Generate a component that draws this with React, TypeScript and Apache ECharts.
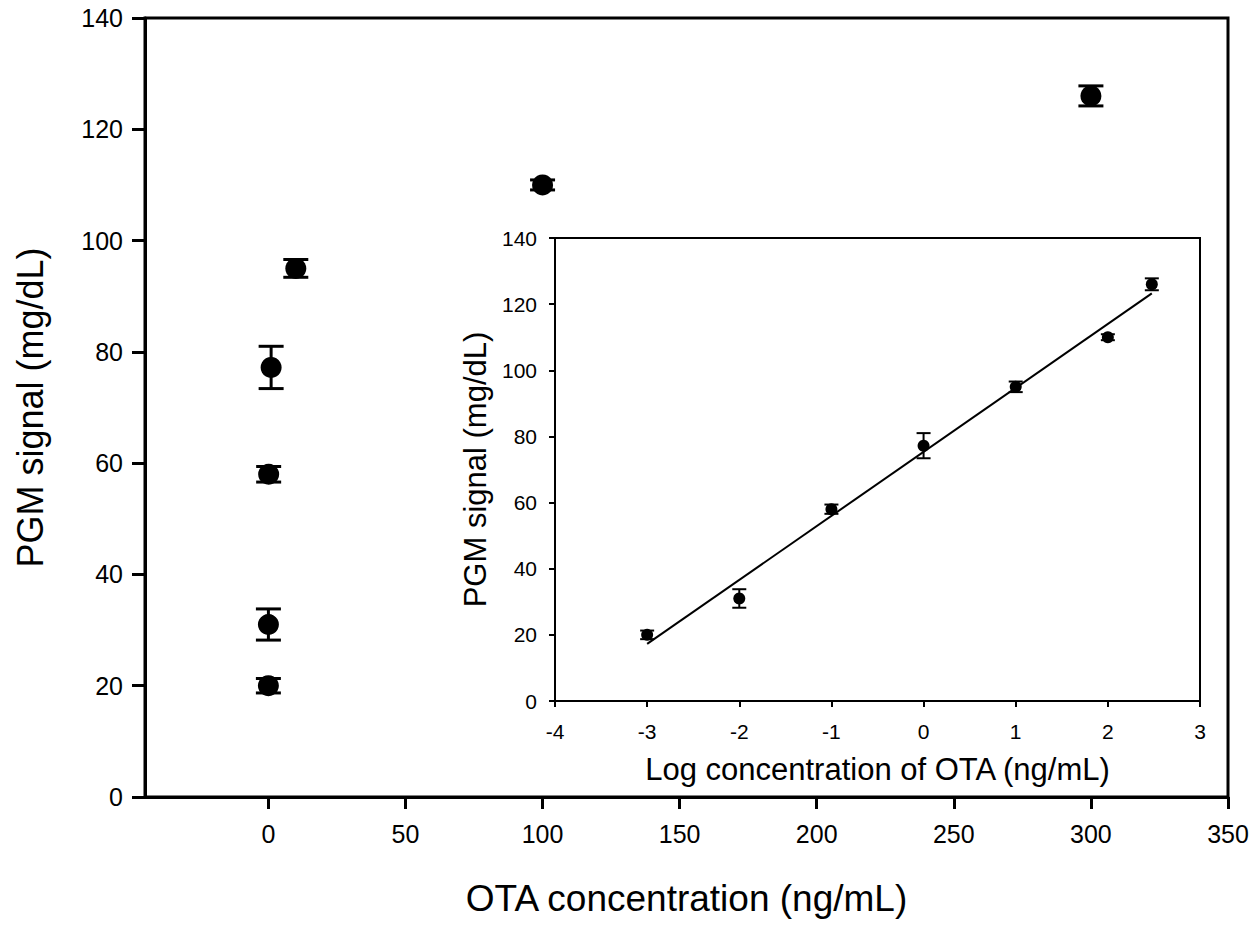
import React, { useEffect, useRef } from "react";
import * as echarts from "echarts";

// OTA concentrations (ng/mL) and PGM signal (mg/dL) with error (SD)
const concentrations = [0.001, 0.01, 0.1, 1, 10, 100, 300];
const pgmSignal = [20, 31, 58, 77.2, 95, 110, 126];
const pgmError = [1.3, 2.8, 1.4, 3.8, 1.6, 0.9, 1.8];

const mainXTicks = [0, 50, 100, 150, 200, 250, 300, 350];

const FONT = "'Liberation Sans', Arial, sans-serif";

export default function App() {
  const ref = useRef<HTMLDivElement>(null);

  useEffect(() => {
    if (!ref.current) return;
    const chart = echarts.init(ref.current, null, { renderer: "svg" });

    const logX = concentrations.map((c) => Math.log10(c));
    const mainData = concentrations.map((c, i) => [c, pgmSignal[i], pgmError[i]]);
    const insetData = logX.map((lx, i) => [lx, pgmSignal[i], pgmError[i]]);

    // least squares fit on log scale
    const n = logX.length;
    const mx = logX.reduce((a, b) => a + b, 0) / n;
    const my = pgmSignal.reduce((a, b) => a + b, 0) / n;
    let sxy = 0,
      sxx = 0;
    for (let i = 0; i < n; i++) {
      sxy += (logX[i] - mx) * (pgmSignal[i] - my);
      sxx += (logX[i] - mx) * (logX[i] - mx);
    }
    const slope = sxy / sxx;
    const intercept = my - slope * mx;
    const xLo = Math.min(...logX);
    const xHi = Math.max(...logX);
    const fitData = [
      [xLo, intercept + slope * xLo],
      [xHi, intercept + slope * xHi],
    ];

    const errRender = (capHalf: number, lw: number) => (params: any, api: any) => {
      const x = api.value(0);
      const y = api.value(1);
      const e = api.value(2);
      const top = api.coord([x, y + e]);
      const bot = api.coord([x, y - e]);
      const style = { stroke: "#000", lineWidth: lw };
      return {
        type: "group",
        children: [
          { type: "line", shape: { x1: top[0], y1: top[1], x2: bot[0], y2: bot[1] }, style },
          { type: "line", shape: { x1: top[0] - capHalf, y1: top[1], x2: top[0] + capHalf, y2: top[1] }, style },
          { type: "line", shape: { x1: bot[0] - capHalf, y1: bot[1], x2: bot[0] + capHalf, y2: bot[1] }, style },
        ],
      };
    };

    const mainAxisLine = { show: true, onZero: false, lineStyle: { color: "#000", width: 3 } };
    const insetAxisLine = { show: true, onZero: false, lineStyle: { color: "#000", width: 2 } };

    chart.setOption({
      animation: false,
      backgroundColor: "#fff",
      grid: [
        {
          left: 145,
          top: 18,
          width: 1083,
          height: 779,
          show: true,
          borderColor: "#000",
          borderWidth: 3,
          backgroundColor: "transparent",
        },
        {
          left: 555,
          top: 238,
          width: 645,
          height: 463,
          show: true,
          borderColor: "#000",
          borderWidth: 2,
          backgroundColor: "#fff",
          z: 5,
        },
      ],
      xAxis: [
        {
          gridIndex: 0,
          type: "value",
          min: -45,
          max: 350,
          axisLine: mainAxisLine,
          axisTick: {
            show: true,
            customValues: mainXTicks,
            length: 12,
            lineStyle: { color: "#000", width: 3 },
          },
          axisLabel: {
            customValues: mainXTicks,
            color: "#000",
            fontSize: 25,
            fontFamily: FONT,
            margin: 24,
          },
          splitLine: { show: false },
          name: "OTA concentration (ng/mL)",
          nameLocation: "middle",
          nameGap: 83,
          nameTextStyle: { color: "#000", fontSize: 37, fontFamily: FONT },
        },
        {
          gridIndex: 1,
          type: "value",
          min: -4,
          max: 3,
          interval: 1,
          axisLine: insetAxisLine,
          axisTick: { show: true, length: 6, lineStyle: { color: "#000", width: 2 } },
          axisLabel: { color: "#000", fontSize: 21, fontFamily: FONT, margin: 20 },
          splitLine: { show: false },
          name: "Log concentration of OTA (ng/mL)",
          nameLocation: "middle",
          nameGap: 53,
          nameTextStyle: { color: "#000", fontSize: 31, fontFamily: FONT },
          z: 6,
        },
      ],
      yAxis: [
        {
          gridIndex: 0,
          type: "value",
          min: 0,
          max: 140,
          interval: 20,
          axisLine: mainAxisLine,
          axisTick: { show: true, length: 13, lineStyle: { color: "#000", width: 3 } },
          axisLabel: { color: "#000", fontSize: 25, fontFamily: FONT, margin: 22 },
          splitLine: { show: false },
          name: "PGM signal (mg/dL)",
          nameLocation: "middle",
          nameGap: 97,
          nameTextStyle: { color: "#000", fontSize: 36, fontFamily: FONT },
        },
        {
          gridIndex: 1,
          type: "value",
          min: 0,
          max: 140,
          interval: 20,
          axisLine: insetAxisLine,
          axisTick: { show: true, length: 6, lineStyle: { color: "#000", width: 2 } },
          axisLabel: { color: "#000", fontSize: 21, fontFamily: FONT, margin: 18 },
          splitLine: { show: false },
          name: "PGM signal (mg/dL)",
          nameLocation: "middle",
          nameGap: 64,
          nameTextStyle: { color: "#000", fontSize: 31, fontFamily: FONT },
          z: 6,
        },
      ],
      series: [
        {
          type: "custom",
          xAxisIndex: 0,
          yAxisIndex: 0,
          renderItem: errRender(12.5, 3),
          data: mainData,
          z: 3,
        },
        {
          type: "scatter",
          xAxisIndex: 0,
          yAxisIndex: 0,
          symbol: "circle",
          symbolSize: 21,
          itemStyle: { color: "#000", opacity: 1 },
          data: mainData.map((d) => [d[0], d[1]]),
          z: 4,
        },
        {
          type: "line",
          xAxisIndex: 1,
          yAxisIndex: 1,
          data: fitData,
          symbol: "none",
          lineStyle: { color: "#000", width: 2 },
          z: 7,
        },
        {
          type: "custom",
          xAxisIndex: 1,
          yAxisIndex: 1,
          renderItem: errRender(7, 2),
          data: insetData,
          z: 8,
        },
        {
          type: "scatter",
          xAxisIndex: 1,
          yAxisIndex: 1,
          symbol: "circle",
          symbolSize: 12,
          itemStyle: { color: "#000", opacity: 1 },
          data: insetData.map((d) => [d[0], d[1]]),
          z: 9,
        },
      ],
    });

    return () => chart.dispose();
  }, []);

  return (
    <div
      ref={ref}
      style={{ position: "fixed", left: 0, top: 0, width: 1260, height: 933, background: "#fff" }}
    />
  );
}
